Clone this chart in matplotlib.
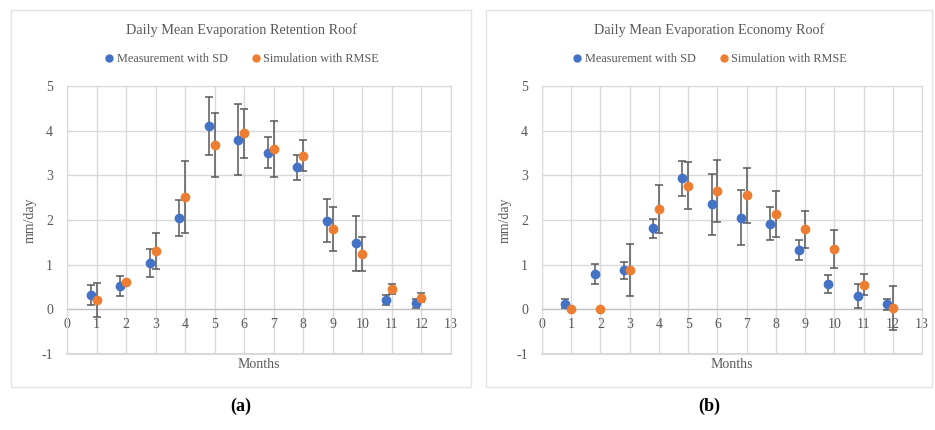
import matplotlib
matplotlib.use("Agg")
import matplotlib.pyplot as plt
from matplotlib.patches import Rectangle
from matplotlib.lines import Line2D

plt.rcParams['font.family'] = ['Liberation Serif', 'DejaVu Serif']
plt.rcParams['axes.unicode_minus'] = False

months = [1, 2, 3, 4, 5, 6, 7, 8, 9, 10, 11, 12]
meas_offset = -0.2

# retention roof
ret_meas = [0.32, 0.52, 1.04, 2.05, 4.10, 3.80, 3.51, 3.18, 1.98, 1.48, 0.20, 0.14]
ret_sd = [0.22, 0.22, 0.31, 0.40, 0.65, 0.80, 0.34, 0.28, 0.48, 0.62, 0.11, 0.10]
ret_sim = [0.20, 0.61, 1.30, 2.52, 3.68, 3.94, 3.59, 3.44, 1.80, 1.24, 0.46, 0.26]
ret_rmse = [0.38, 0.0, 0.40, 0.81, 0.72, 0.55, 0.62, 0.34, 0.49, 0.39, 0.11, 0.10]

# economy roof
eco_meas = [0.13, 0.79, 0.87, 1.81, 2.93, 2.35, 2.05, 1.92, 1.33, 0.57, 0.30, 0.11]
eco_sd = [0.10, 0.23, 0.18, 0.21, 0.40, 0.69, 0.62, 0.36, 0.23, 0.20, 0.26, 0.13]
eco_sim = [0.0, 0.0, 0.88, 2.25, 2.77, 2.65, 2.55, 2.14, 1.79, 1.35, 0.55, 0.03]
eco_rmse = [0.0, 0.0, 0.59, 0.53, 0.53, 0.70, 0.62, 0.52, 0.42, 0.43, 0.23, 0.49]

titles = ['Daily Mean Evaporation Retention Roof', 'Daily Mean Evaporation Economy Roof']
panel_labels = ['a', 'b']

BLUE = '#4472C4'
ORANGE = '#ED7D31'
GREY = '#595959'
GRID = '#D9D9D9'

W, H = 935, 430
fig = plt.figure(figsize=(W / 100, H / 100), dpi=100)


def fx(px):
    return px / W


def fy(py):
    return 1 - py / H


def draw_panel(box, plot, title, meas, sd, sim, rmse, label):
    # outer frame of the excel chart
    bx0, by0, bx1, by1 = box
    fig.patches.append(Rectangle((fx(bx0), fy(by1)), fx(bx1 - bx0), (by1 - by0) / H,
                                 transform=fig.transFigure, fill=False,
                                 edgecolor='#E3E3E3', linewidth=1))
    x0, y0, x1, y1 = plot
    pw, ph = x1 - x0, y1 - y0
    ax = fig.add_axes([fx(x0), fy(y1), fx(pw), ph / H])

    mx = [m + meas_offset for m in months]
    ax.errorbar(mx, meas, yerr=sd, fmt='o', color=BLUE, ms=6, ecolor=GREY,
                elinewidth=1.1, capsize=3, capthick=1.1, zorder=3)
    ax.errorbar(months, sim, yerr=rmse, fmt='o', color=ORANGE, ms=6, ecolor=GREY,
                elinewidth=1.1, capsize=3, capthick=1.1, zorder=3)

    ax.set_xlim(0, 13)
    ax.set_ylim(-1, 5)
    ax.set_xticks(range(0, 14))
    ax.set_yticks(range(-1, 6))
    ax.grid(True, color=GRID, linewidth=1)
    ax.set_axisbelow(True)
    ax.axhline(-1, color=GRID, linewidth=1.5, clip_on=False, zorder=0)
    for s in ['top', 'right', 'left']:
        ax.spines[s].set_color(GRID)
    ax.spines['bottom'].set_position(('data', 0))
    ax.spines['bottom'].set_color('#BFBFBF')
    ax.tick_params(length=0, labelsize=10, labelcolor=GREY, pad=6)
    ax.tick_params(axis='y', pad=10)

    # title and legend are centred on the chart box, not the plot area
    cx = ((bx0 + bx1) / 2 - x0) / pw
    ax.text(cx, 1 + (86 - 30) / ph, title, transform=ax.transAxes, ha='center',
            va='center', fontsize=10.3, color=GREY)
    ax.set_ylabel('mm/day', fontsize=10, color=GREY)
    ax.yaxis.set_label_coords(-(x0 - bx0 - 26) / pw, 0.5)
    ax.text(0.5, -(364 - y1) / ph, 'Months', transform=ax.transAxes,
            ha='center', va='center', fontsize=10, color=GREY)

    handles = [Line2D([], [], marker='o', ls='', color=BLUE, ms=5),
               Line2D([], [], marker='o', ls='', color=ORANGE, ms=5)]
    leg = ax.legend(handles, ['Measurement with SD', 'Simulation with RMSE'],
                    loc='center', bbox_to_anchor=(cx, 1 + (86 - 59) / ph),
                    ncol=2, frameon=False, fontsize=8.8, handletextpad=0.1,
                    columnspacing=1.8, handlelength=1)
    for t in leg.get_texts():
        t.set_color(GREY)

    fig.text(fx((bx0 + bx1) / 2), fy(406), '(' + label + ')', ha='center', va='center',
             fontsize=13, fontweight='bold', color='black')


draw_panel((11, 10, 471, 387), (67, 86, 451, 354), titles[0],
           ret_meas, ret_sd, ret_sim, ret_rmse, panel_labels[0])
draw_panel((486, 10, 932, 387), (542, 86, 922, 354), titles[1],
           eco_meas, eco_sd, eco_sim, eco_rmse, panel_labels[1])

fig.savefig('out.png', dpi=100)
